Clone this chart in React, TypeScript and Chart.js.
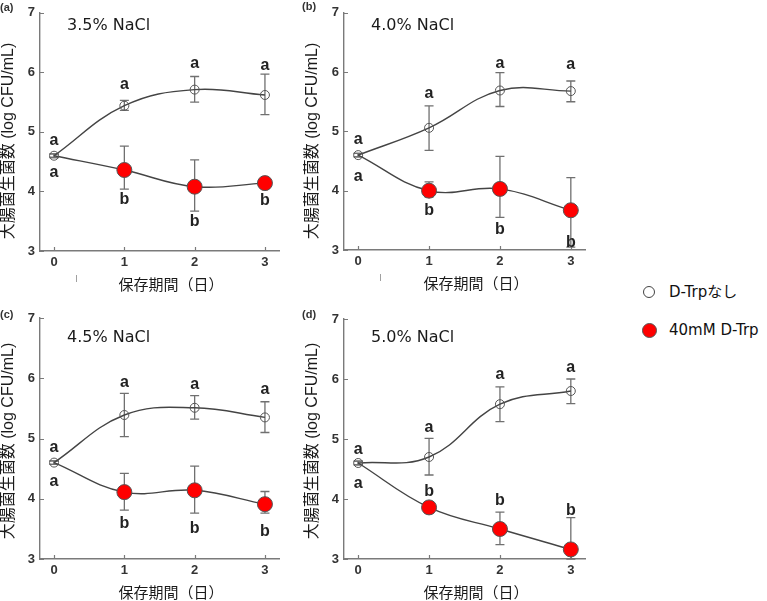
import React, { useEffect, useRef } from "react";
import { Chart, registerables } from "chart.js";
Chart.register(...registerables);

// ---------- data ----------
const days = [0, 1, 2, 3];
const xTickValues = [0, 1, 2, 3];
const yTickValues = [3, 4, 5, 6, 7];

const panelTags = ["(a)", "(b)", "(c)", "(d)"];
const saltLabels = ["3.5% NaCl", "4.0% NaCl", "4.5% NaCl", "5.0% NaCl"];
const seriesNames = ["D-Trpなし", "40mM D-Trp"];
const yTitle = "大腸菌生菌数 (log CFU/mL)";
const xTitle = "保存期間（日）";

// D-Trpなし (open circles), one row per panel
const ctrlMean = [
  [4.6, 5.44, 5.71, 5.62],
  [4.6, 5.06, 5.69, 5.68],
  [4.6, 5.39, 5.51, 5.35],
  [4.6, 4.7, 5.58, 5.8],
];
const ctrlHigh = [
  [4.63, 5.53, 5.93, 5.97],
  [4.63, 5.43, 5.99, 5.85],
  [4.63, 5.75, 5.71, 5.61],
  [4.63, 5.01, 5.87, 6.0],
];
const ctrlLow = [
  [4.57, 5.36, 5.5, 5.29],
  [4.57, 4.68, 5.42, 5.5],
  [4.57, 5.03, 5.32, 5.1],
  [4.57, 4.4, 5.29, 5.59],
];

// 40mM D-Trp (red circles)
const trpMean = [
  [4.6, 4.36, 4.08, 4.14],
  [4.6, 4.0, 4.03, 3.67],
  [4.6, 4.11, 4.14, 3.91],
  [4.6, 3.86, 3.5, 3.16],
];
const trpHigh = [
  [4.63, 4.76, 4.53, 4.17],
  [4.63, 4.15, 4.58, 4.22],
  [4.63, 4.42, 4.54, 4.12],
  [4.63, 3.95, 3.78, 3.69],
];
const trpLow = [
  [4.57, 4.04, 3.67, 4.11],
  [4.57, 3.89, 3.55, 3.05],
  [4.57, 3.81, 3.76, 3.76],
  [4.57, 3.76, 3.24, 3.0],
];

// significance letters and their heights (log CFU/mL)
const ctrlLetters = ["a", "a", "a", "a"];
const trpLetters = [
  ["a", "b", "b", "b"],
  ["a", "b", "b", "b"],
  ["a", "b", "b", "b"],
  ["a", "b", "b", "b"],
];
const ctrlLetterY = [
  [4.86, 5.8, 6.15, 6.11],
  [4.87, 5.64, 6.14, 6.13],
  [4.85, 5.92, 5.89, 5.82],
  [4.83, 5.19, 6.07, 6.19],
];
const trpLetterY = [
  [4.31, 3.87, 3.5, 3.84],
  [4.23, 3.66, 3.35, 3.12],
  [4.28, 3.59, 3.51, 3.46],
  [4.25, 4.13, 3.97, 3.81],
];

// ---------- layout ----------
type Layout = {
  left: number; top: number; w: number; h: number;
  aL: number; aT: number; aR: number; aB: number;
  tagX: number; tagY: number; saltY: number; stray: boolean;
};
const layouts: Layout[] = [
  { left: 0, top: 0, w: 300, h: 300, aL: 40, aT: 12, aR: 279, aB: 251, tagX: 0, tagY: 8, saltY: 26, stray: true },
  { left: 300, top: 0, w: 300, h: 300, aL: 44, aT: 12, aR: 285, aB: 250, tagX: 2, tagY: 7, saltY: 26, stray: true },
  { left: 0, top: 300, w: 300, h: 301, aL: 40, aT: 18, aR: 279, aB: 259, tagX: 0, tagY: 15, saltY: 38, stray: false },
  { left: 300, top: 300, w: 300, h: 301, aL: 44, aT: 19, aR: 285, aB: 259, tagX: 2, tagY: 15, saltY: 38, stray: false },
];

const LATIN = '"Liberation Sans", Arial, "Noto Sans CJK JP", sans-serif';
const VERD = '"DejaVu Sans", "Noto Sans CJK JP", sans-serif';
const CJK = '"Noto Sans CJK JP", "Liberation Sans", sans-serif';
const AXIS = "#7a7a7a";

function makePlugin(p: number, L: Layout) {
  return {
    id: "annot" + p,
    beforeDatasetsDraw(chart: any) {
      const { ctx, chartArea } = chart;
      const xs = chart.scales.x, ys = chart.scales.y;
      ctx.save();
      // inward tick marks
      ctx.strokeStyle = AXIS;
      ctx.lineWidth = 1.2;
      ctx.beginPath();
      xTickValues.forEach((v) => {
        const px = Math.round(xs.getPixelForValue(v)) + 0.5;
        ctx.moveTo(px, chartArea.bottom);
        ctx.lineTo(px, chartArea.bottom - 4);
      });
      yTickValues.forEach((v) => {
        const py = Math.round(ys.getPixelForValue(v)) + 0.5;
        ctx.moveTo(chartArea.left, py);
        ctx.lineTo(chartArea.left + 4, py);
      });
      ctx.stroke();
      // error bars
      ctx.strokeStyle = "#707070";
      ctx.lineWidth = 1.3;
      const sets = [
        [ctrlLow[p], ctrlHigh[p]],
        [trpLow[p], trpHigh[p]],
      ];
      for (const [lo, hi] of sets) {
        days.forEach((d, i) => {
          const px = xs.getPixelForValue(d);
          const y1 = ys.getPixelForValue(lo[i]);
          const y2 = ys.getPixelForValue(hi[i]);
          ctx.beginPath();
          ctx.moveTo(px, y1); ctx.lineTo(px, y2);
          ctx.moveTo(px - 4.5, y1); ctx.lineTo(px + 4.5, y1);
          ctx.moveTo(px - 4.5, y2); ctx.lineTo(px + 4.5, y2);
          ctx.stroke();
        });
      }
      ctx.restore();
    },
    afterDatasetsDraw(chart: any) {
      const { ctx, chartArea } = chart;
      const xs = chart.scales.x, ys = chart.scales.y;
      ctx.save();
      // significance letters
      ctx.fillStyle = "#222";
      ctx.font = `bold 16px ${LATIN}`;
      ctx.textAlign = "center";
      ctx.textBaseline = "middle";
      days.forEach((d, i) => {
        const px = xs.getPixelForValue(d);
        ctx.fillText(ctrlLetters[i], px, ys.getPixelForValue(ctrlLetterY[p][i]));
        ctx.fillText(trpLetters[p][i], px, ys.getPixelForValue(trpLetterY[p][i]));
      });
      // salt label
      ctx.textAlign = "left";
      ctx.font = `16px ${VERD}`;
      ctx.fillStyle = "#1a1a1a";
      ctx.fillText(saltLabels[p], chartArea.left + 27, L.saltY);
      // panel tag
      ctx.font = `bold 11px ${LATIN}`;
      ctx.fillStyle = "#333";
      ctx.fillText(panelTags[p], L.tagX, L.tagY);
      // y title
      ctx.save();
      ctx.translate(chartArea.left - 31, 141);
      ctx.rotate(-Math.PI / 2);
      ctx.textAlign = "center";
      ctx.font = `16px ${LATIN}`;
      ctx.fillStyle = "#1a1a1a";
      ctx.fillText(yTitle, 0, 0);
      ctx.restore();
      // x title
      ctx.textAlign = "center";
      ctx.font = `15px ${CJK}`;
      ctx.fillStyle = "#1a1a1a";
      ctx.fillText(xTitle, (chartArea.left + chartArea.right) / 2 + 11.5, chartArea.bottom + 33);
      if (L.stray) {
        ctx.strokeStyle = "#a0a0a0";
        ctx.lineWidth = 1;
        ctx.beginPath();
        ctx.moveTo(chartArea.left + 36.5, chartArea.bottom + 24);
        ctx.lineTo(chartArea.left + 36.5, chartArea.bottom + 31);
        ctx.stroke();
      }
      ctx.restore();
    },
  };
}

function Panel({ p }: { p: number }) {
  const ref = useRef<HTMLCanvasElement>(null);
  const L = layouts[p];
  useEffect(() => {
    if (!ref.current) return;
    const lineCol = "#444";
    const chart = new Chart(ref.current, {
      type: "line",
      data: {
        datasets: [
          {
            label: seriesNames[0],
            data: days.map((d, i) => ({ x: d, y: ctrlMean[p][i] })),
            borderColor: lineCol,
            borderWidth: 1.4,
            tension: 0.4,
            pointRadius: 4.5,
            pointBorderWidth: 1,
            pointBorderColor: "#555",
            pointBackgroundColor: "rgba(255,255,255,0)",
            clip: false,
          } as any,
          {
            label: seriesNames[1],
            data: days.map((d, i) => ({ x: d, y: trpMean[p][i] })),
            borderColor: lineCol,
            borderWidth: 1.4,
            tension: 0.4,
            pointRadius: [0, 7.5, 7.5, 7.5],
            pointBorderWidth: 1,
            pointBorderColor: "#555",
            pointBackgroundColor: "#ff0000",
            clip: false,
          } as any,
        ],
      },
      options: {
        animation: false,
        responsive: false,
        maintainAspectRatio: false,
        layout: { padding: { top: L.aT, right: L.w - L.aR, left: 0, bottom: 0 } },
        plugins: { legend: { display: false }, tooltip: { enabled: false } },
        scales: {
          x: {
            type: "linear",
            min: -0.2,
            max: 3.2,
            afterBuildTicks: (s: any) => { s.ticks = xTickValues.map((v) => ({ value: v })); },
            afterFit: (s: any) => { s.height = L.h - L.aB; },
            ticks: { font: { family: LATIN, size: 13, weight: "bold" }, color: "#333", padding: 4, includeBounds: false },
            grid: { display: false, drawOnChartArea: false, drawTicks: false },
            border: { display: true, color: AXIS, width: 1.4 },
          },
          y: {
            type: "linear",
            min: 3,
            max: 7,
            afterBuildTicks: (s: any) => { s.ticks = yTickValues.map((v) => ({ value: v })); },
            afterFit: (s: any) => { s.width = L.aL; },
            ticks: { font: { family: LATIN, size: 13, weight: "bold" }, color: "#333", padding: 5 },
            grid: { display: false, drawOnChartArea: false, drawTicks: false },
            border: { display: true, color: AXIS, width: 1.4 },
          },
        },
      } as any,
      plugins: [makePlugin(p, L)],
    });
    return () => chart.destroy();
  }, [p]);
  return (
    <canvas
      ref={ref}
      width={L.w}
      height={L.h}
      style={{ position: "absolute", left: L.left, top: L.top, width: L.w, height: L.h }}
    />
  );
}

export default function App() {
  const legendText: React.CSSProperties = {
    position: "absolute",
    left: 669,
    font: `15px ${VERD}`,
    lineHeight: "18px",
    color: "#111",
    whiteSpace: "nowrap",
  };
  return (
    <div style={{ position: "fixed", left: 0, top: 0, width: 767, height: 601, background: "#fff", overflow: "hidden" }}>
      {[0, 1, 2, 3].map((p) => (
        <Panel key={p} p={p} />
      ))}
      <div style={{ position: "absolute", left: 643, top: 286, width: 10, height: 10, borderRadius: "50%", border: "1px solid #444", background: "#fff" }} />
      <div style={{ ...legendText, top: 283 }}>{seriesNames[0]}</div>
      <div style={{ position: "absolute", left: 641.5, top: 322.5, width: 13, height: 13, borderRadius: "50%", border: "1px solid #555", background: "#ff0000" }} />
      <div style={{ ...legendText, top: 321 }}>{seriesNames[1]}</div>
    </div>
  );
}
